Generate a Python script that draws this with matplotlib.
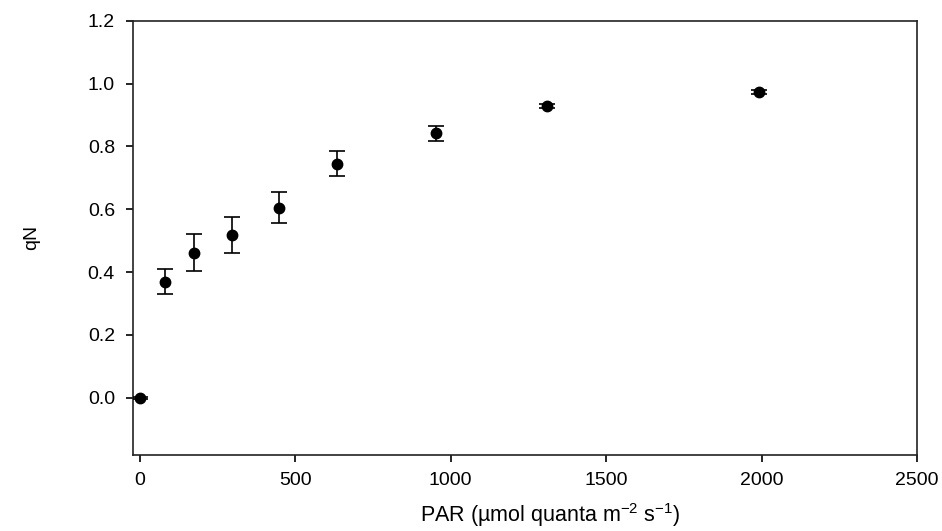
import matplotlib
matplotlib.use("Agg")
import matplotlib.pyplot as plt

par = [0, 80, 175, 296, 447, 634, 952, 1310, 1992]
qn = [0.0, 0.369, 0.462, 0.518, 0.605, 0.745, 0.841, 0.929, 0.973]
qn_err = [0.004, 0.040, 0.060, 0.057, 0.050, 0.040, 0.025, 0.007, 0.006]
xticks = [0, 500, 1000, 1500, 2000, 2500]
yticks = [0.0, 0.2, 0.4, 0.6, 0.8, 1.0, 1.2]

plt.rcParams['font.family'] = ['Liberation Sans', 'DejaVu Sans']

fig = plt.figure(figsize=(9.42, 5.31), dpi=100)
ax = fig.add_axes([0.1412, 0.1431, 0.8323, 0.818])

ax.errorbar(par, qn, yerr=qn_err, fmt='o', color='black', ms=7.5,
            capsize=6, elinewidth=1.2, capthick=1.2, zorder=3)

ax.set_xlim(-22, 2500)
ax.set_ylim(-0.182, 1.2)
ax.set_xticks(xticks)
ax.set_xticklabels([str(t) for t in xticks])
ax.set_yticks(yticks)
ax.set_yticklabels([f"{t:.1f}" for t in yticks])
ax.tick_params(direction='out', length=5, width=1.2, labelsize=14,
               colors='black', pad=8)
ax.tick_params(axis='x', pad=7)
for s in ax.spines.values():
    s.set_linewidth(1.2)
    s.set_color('#222222')

ax.set_xlabel(r"PAR (µmol quanta m$^{\mathregular{-2}}$ s$^{\mathregular{-1}}$)", fontsize=15.5)
ax.xaxis.set_label_coords(0.532, -0.105)
ax.set_ylabel("qN", fontsize=14, labelpad=34)

fig.savefig("out.png", dpi=100)
